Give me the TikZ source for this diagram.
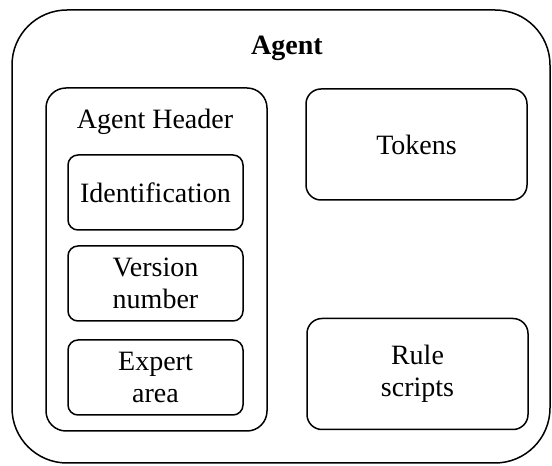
\documentclass[tikz,border=0pt]{standalone}
\usepackage{fontspec}
\setmainfont{Liberation Serif}
\usepackage{tikz}

\begin{document}
\begin{tikzpicture}[
    x=1pt, y=1pt,
    every node/.style={font=\fontsize{28}{32}\selectfont},
    outer/.style={draw, line width=1.5pt, rounded corners=55pt},
    group/.style={draw, line width=1.5pt, rounded corners=20pt},
    item/.style={draw, line width=1.5pt, rounded corners=10pt, align=center,
                 minimum width=175pt, minimum height=75pt, inner sep=0pt},
    part/.style={draw, line width=1.5pt, rounded corners=15pt, align=center,
                 minimum width=221pt, minimum height=111pt, inner sep=0pt}
]
\useasboundingbox (0,0) rectangle (552,466);

% outer agent frame
\node[outer, minimum width=538pt, minimum height=453pt] (agent) at (281,229.5) {};
\node[font=\fontsize{28}{32}\selectfont\bfseries] (agentlbl) at (287,418) {Agent};

% header group
\node[group, minimum width=221pt, minimum height=343pt] (hdr) at (156.5,206.5) {};
\node (hdrlbl) at (155,344) {Agent Header};
\node[item] (ident) at (155.5,273.5) {Identification};
\node[item] (version) at (155.5,182.5) {Version\\number};
\node[item] (expert) at (155.5,88.5) {Expert\\area};

% right column
\node[part] (tokens) at (416.5,321.5) {Tokens};
\node[part] (rules) at (417.5,92) {Rule\\scripts};
\end{tikzpicture}
\end{document}
